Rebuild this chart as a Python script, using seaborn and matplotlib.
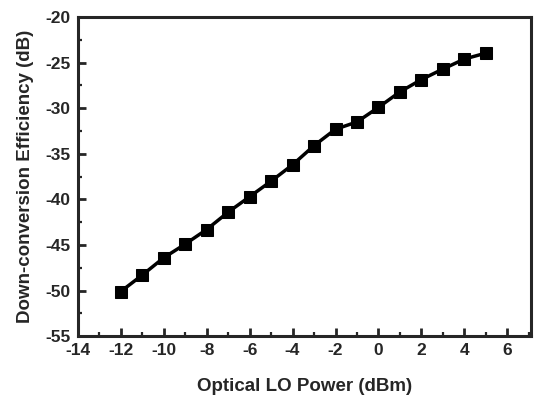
import matplotlib
matplotlib.use("Agg")
import matplotlib.pyplot as plt
import seaborn as sns
import pandas as pd
from matplotlib.ticker import MultipleLocator

power_dbm = [-12, -11, -10, -9, -8, -7, -6, -5, -4, -3, -2, -1, 0, 1, 2, 3, 4, 5]
efficiency_db = [-50.1, -48.3, -46.4, -44.9, -43.3, -41.4, -39.7, -38.0, -36.2, -34.1,
                 -32.3, -31.5, -29.9, -28.2, -26.85, -25.7, -24.6, -23.95]

df = pd.DataFrame({"x": power_dbm, "y": efficiency_db})

sns.set_style("ticks")
plt.rcParams['font.family'] = ['Liberation Sans', 'DejaVu Sans']
plt.rcParams['font.weight'] = 'bold'
plt.rcParams['axes.unicode_minus'] = False

fig = plt.figure(figsize=(5.44, 4.07), dpi=100)
ax = fig.add_axes([0.143, 0.174, 0.833, 0.784])

sns.lineplot(data=df, x="x", y="y", ax=ax, color="black", linewidth=2.5,
             marker="s", markersize=9, markeredgecolor="black", markerfacecolor="black")

ax.set_xlim(-14, 7.1)
ax.set_ylim(-55, -20)
ax.xaxis.set_major_locator(MultipleLocator(2))
ax.xaxis.set_minor_locator(MultipleLocator(1))
ax.yaxis.set_major_locator(MultipleLocator(5))
ax.yaxis.set_minor_locator(MultipleLocator(2.5))
ax.tick_params(which="major", direction="in", length=6, width=2, labelsize=12.5,
               top=False, right=False, pad=5)
ax.tick_params(which="minor", direction="in", length=3, width=1.6, top=False, right=False)
for lab in ax.get_xticklabels() + ax.get_yticklabels():
    lab.set_fontweight("bold")
for s in ax.spines.values():
    s.set_linewidth(2.2)
    s.set_visible(True)

ax.set_xlabel("Optical LO Power (dBm)", fontsize=13.5, fontweight="bold", labelpad=14)
ax.set_ylabel("Down-conversion Efficiency (dB)", fontsize=13.5, fontweight="bold", labelpad=8)

fig.savefig("out.png", dpi=100)
